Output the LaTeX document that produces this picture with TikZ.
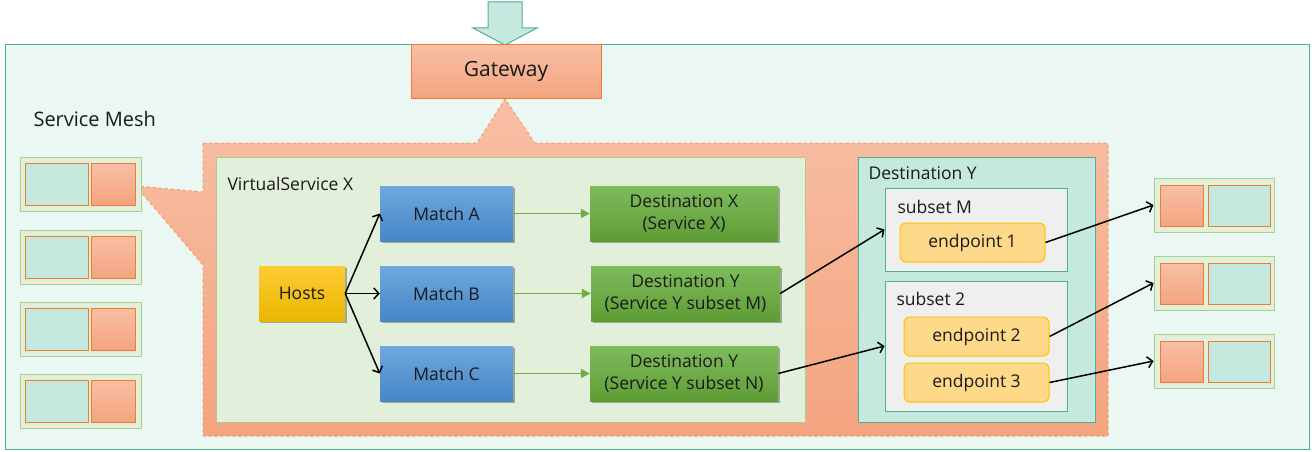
\documentclass[tikz,border=0pt]{standalone}
\usepackage{fontspec}
\setmainfont{Open Sans}
\usepackage{tikz}
\usetikzlibrary{positioning,arrows.meta,shadows}

\definecolor{meshfill}{HTML}{EAF7F2}
\definecolor{meshline}{HTML}{4FAF9B}
\definecolor{tealfill}{HTML}{C5E9DE}
\definecolor{salA}{HTML}{F8BFA5}
\definecolor{salB}{HTML}{F4A47F}
\definecolor{orline}{HTML}{ED7D31}
\definecolor{vsfill}{HTML}{E2EFDA}
\definecolor{vsline}{HTML}{A9D18E}
\definecolor{blueA}{HTML}{6EA8DE}
\definecolor{blueB}{HTML}{4686C6}
\definecolor{greenA}{HTML}{7EBC5C}
\definecolor{greenB}{HTML}{5E9D35}
\definecolor{greenarr}{HTML}{70AD47}
\definecolor{yellowA}{HTML}{FFCB35}
\definecolor{yellowB}{HTML}{E9B700}
\definecolor{epfill}{HTML}{FFD98A}
\definecolor{epline}{HTML}{FFC000}
\definecolor{subfill}{HTML}{EFEFEF}
\definecolor{txt}{HTML}{1A1A1A}

\tikzset{
  box/.style={rectangle, minimum height=55, text=txt, inner sep=2pt,
    drop shadow={shadow xshift=1.5pt, shadow yshift=-1.5pt, opacity=0.3, fill=black}},
  matchbox/.style={box, top color=blueA, bottom color=blueB, minimum width=133},
  destbox/.style={box, top color=greenA, bottom color=greenB, minimum width=188, align=center},
  hostbox/.style={box, top color=yellowA, bottom color=yellowB, minimum width=86},
  epbox/.style={rectangle, rounded corners=6, fill=epfill, draw=epline, line width=1pt,
    minimum width=145, minimum height=39, text=txt},
  subbox/.style={rectangle, fill=subfill, draw=meshline, line width=1pt, minimum width=182},
  podbox/.style={rectangle, fill=vsfill, draw=vsline, line width=1pt},
  cell/.style={draw=orline, line width=1pt},
  hostarrow/.style={draw=black, line width=1.5pt, -{Straight Barb[length=5pt,width=11pt]}},
  greenarrow/.style={draw=greenarr, line width=1.6pt, -{Triangle[length=9pt,width=9pt]}}
}

\begin{document}
\begin{tikzpicture}[x=1pt,y=-1pt,font=\fontsize{17.5}{22}\selectfont]
\useasboundingbox (0,0) rectangle (1314,452);
\fill[white] (0,0) rectangle (1314,452);

% mesh
\draw[fill=meshfill, draw=meshline, line width=1pt] (5,45) rectangle (1309,449);
\node[anchor=west, text=txt, font=\fontsize{20}{24}\selectfont] (meshlabel) at (30,119) {Service Mesh};

% ingress arrow
\draw[fill=tealfill, draw=meshline, line width=1pt]
  (488,2) -- (522,2) -- (522,28) -- (537,28) -- (505,45) -- (473,28) -- (488,28) -- cycle;

% callout region
\path[top color=salA, bottom color=salB, draw=salB!80!orline, dashed, line width=1pt]
  (203,143) -- (477,143) -- (505,99) -- (535,143) -- (1108,143) -- (1108,436)
  -- (203,436) -- (203,265) -- (136,186) -- (203,192) -- cycle;

\node[top color=salA, bottom color=salB, draw=orline, line width=1pt, minimum width=190,
  minimum height=53, text=txt, font=\fontsize{21}{24}\selectfont] (gateway) at (506,71.5) {Gateway};

% virtual service
\draw[fill=vsfill, draw=vsline, line width=1pt] (216,157) rectangle (805,422);
\node[anchor=west, text=txt] (vslabel) at (224,184) {VirtualService X};

\node[hostbox] (hosts) at (302,293.5) {Hosts};
\node[matchbox] (ma) at (446.5,213.5) {Match A};
\node[matchbox] (mb) at (446.5,293.5) {Match B};
\node[matchbox] (mc) at (446.5,373.5) {Match C};
\node[destbox] (dx) at (684,213.5) {Destination X\\(Service X)};
\node[destbox, minimum width=189] (dym) at (685.5,293.5) {Destination Y\\(Service Y subset M)};
\node[destbox] (dyn) at (684,373.5) {Destination Y\\(Service Y subset N)};

\draw[hostarrow] (hosts.east) -- (ma.west);
\draw[hostarrow] (hosts.east) -- (mb.west);
\draw[hostarrow] (hosts.east) -- (mc.west);
\draw[greenarrow] (ma) -- (dx);
\draw[greenarrow] (mb.east) -- (mb.east -| dym.west);
\draw[greenarrow] (mc) -- (dyn);

% destination rule
\draw[fill=tealfill, draw=meshline, line width=1pt] (858,157) rectangle (1095,422);
\node[anchor=west, text=txt] (dylabel) at (865,173) {Destination Y};

\node[subbox, minimum height=83] (subm) at (976,229.5) {};
\node[anchor=west, text=txt] at (894,207) {subset M};
\node[epbox] (ep1) at (972.5,242.5) {endpoint 1};

\node[subbox, minimum height=130] (sub2) at (976,346) {};
\node[anchor=west, text=txt] at (893,299) {subset 2};
\node[epbox] (ep2) at (976.5,336.5) {endpoint 2};
\node[epbox] (ep3) at (976.5,382.5) {endpoint 3};

\draw[hostarrow] (dym.east) -- (subm.west);
\draw[hostarrow] (dyn.east) -- (sub2.west);

% pods
\foreach \y in {157,230,302,374}{
  \draw[podbox] (20,\y) rectangle (141,\y+54);
  \draw[cell, fill=tealfill] (25,\y+6) rectangle (88,\y+48);
  \draw[cell, top color=salA, bottom color=salB] (91,\y+6) rectangle (135,\y+48);
}
\foreach \y [count=\i] in {178,256,334}{
  \node[podbox, minimum width=120, minimum height=54] (pod\i) at (1214,\y+27) {};
  \draw[cell, top color=salA, bottom color=salB] (1160,\y+7) rectangle (1203,\y+48);
  \draw[cell, fill=tealfill] (1208,\y+7) rectangle (1270,\y+48);
}

\draw[hostarrow] (ep1.east) -- (pod1.west);
\draw[hostarrow] (ep2.east) -- (pod2.west);
\draw[hostarrow] (ep3.east) -- (pod3.west);
\end{tikzpicture}
\end{document}
